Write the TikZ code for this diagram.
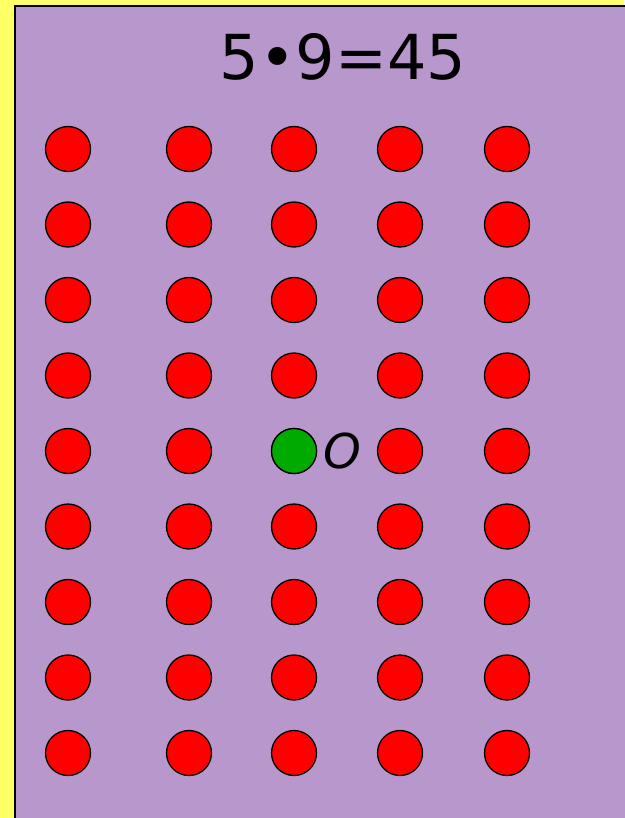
\documentclass[tikz,border=0pt]{standalone}
\usepackage{fontspec}
\setmainfont{DejaVu Sans}
\usepackage{xcolor}
\definecolor{pagebg}{HTML}{FFFF66}
\definecolor{panel}{HTML}{B897CC}
\definecolor{dotred}{HTML}{FF0000}
\definecolor{dotgreen}{HTML}{00AA00}
\usetikzlibrary{positioning}

\begin{document}
\begin{tikzpicture}[
  x=1pt, y=-1pt,
  dot/.style={circle, draw=black, line width=1.3pt, minimum size=45pt, inner sep=0pt, fill=dotred},
  title/.style={font=\fontsize{62}{66}\selectfont},
  lbl/.style={font=\itshape\fontsize{48}{52}\selectfont, inner sep=0pt}
]
\useasboundingbox (0,0) rectangle (624,818);
\fill[pagebg] (0,0) rectangle (624,818);
\draw[fill=panel, line width=2.2pt] (15,6) rectangle (640,840);
\node[title] (eq) at (343,57) {5•9=45};
% five columns of nine dots
\foreach \c/\x in {1/68,2/189,3/294,4/400,5/507}
  \foreach \r in {1,...,9}
    \node[dot] (d\c\r) at (\x,{149+75.5*(\r-1)}) {};
\node[dot, fill=dotgreen] at (d35) {};
\node[lbl, right=6pt of d35] (zero) {O};
\end{tikzpicture}
\end{document}
